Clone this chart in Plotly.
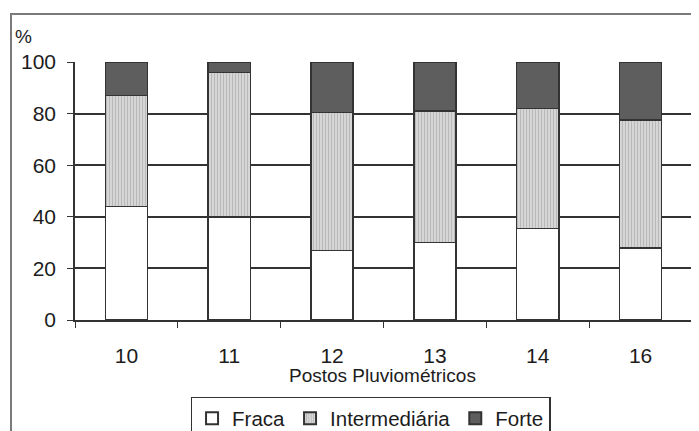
import plotly.graph_objects as go

# Postos pluviométricos and share (%) of each rain class
postos = ["10", "11", "12", "13", "14", "16"]
fraca = [44, 40, 27, 30, 35.5, 28]
intermediaria = [43, 56, 53.5, 51, 46.5, 49.5]
forte = [13, 4, 19.5, 19, 18, 22.5]

y_ticks = [0, 20, 40, 60, 80, 100]

FONT = "Liberation Sans, Arial, sans-serif"
EDGE = "#333333"
TEXT = "#1c1c1c"

fig = go.Figure()

fig.add_trace(
    go.Bar(
        x=postos,
        y=fraca,
        name="Fraca",
        marker=dict(color="#ffffff", line=dict(color=EDGE, width=1.5)),
    )
)
fig.add_trace(
    go.Bar(
        x=postos,
        y=intermediaria,
        name="Intermediária",
        marker=dict(
            color="#d2d2d2",
            line=dict(color=EDGE, width=1.5),
            pattern=dict(shape="|", size=3, solidity=0.35,
                         fgcolor="#9a9a9a", bgcolor="#d6d6d6"),
        ),
    )
)
fig.add_trace(
    go.Bar(
        x=postos,
        y=forte,
        name="Forte",
        marker=dict(color="#5e5e5e", line=dict(color=EDGE, width=1.5)),
    )
)

# outer frame of the figure (cropped on the right and bottom)
fig.add_shape(
    type="rect", xref="paper", yref="paper",
    x0=-0.1037, x1=1.08, y0=-0.6, y1=1.186,
    line=dict(color="#7a7a7a", width=2), layer="above",
)

fig.add_annotation(
    text="%", xref="paper", yref="paper", x=-0.101, y=1.1, xanchor="left",
    yanchor="middle", showarrow=False, font=dict(size=19, color=TEXT),
)
fig.add_annotation(
    text="Postos Pluviométricos", xref="paper", yref="paper", x=0.498, y=-0.215,
    xanchor="center", yanchor="middle", showarrow=False,
    font=dict(size=19, color=TEXT),
)

# page body adds an 8px margin, so the figure is 8px smaller than the window
fig.update_layout(
    barmode="stack",
    bargap=0.59,
    width=691,
    height=423,
    margin={"l": 67, "r": 7, "t": 54, "b": 111, "autoexpand": False},
    paper_bgcolor="white",
    plot_bgcolor="white",
    font=dict(family=FONT, color=TEXT),
    legend=dict(
        orientation="h", x=0.479, xanchor="center", y=-0.298, yanchor="top",
        bordercolor=EDGE, borderwidth=1.5, font=dict(size=20.5),
        traceorder="normal", itemsizing="constant", itemwidth=30,
    ),
    xaxis=dict(
        type="category", showline=True, linecolor=EDGE, linewidth=1.6,
        ticks="outside", tickson="boundaries", ticklen=6, tickcolor=EDGE,
        tickfont=dict(size=21), showgrid=False, ticklabelstandoff=16,
        mirror=False,
    ),
    yaxis=dict(
        range=[0, 100], tickvals=y_ticks, showline=True, linecolor=EDGE,
        linewidth=1.6, ticks="outside", ticklen=6, tickcolor=EDGE,
        tickfont=dict(size=21), showgrid=True, gridcolor=EDGE, gridwidth=1.6,
        zeroline=False, ticklabelstandoff=7,
    ),
)

# right-hand border of the plot area
fig.add_shape(
    type="line", xref="paper", yref="paper", x0=1, x1=1, y0=0, y1=1,
    line=dict(color=EDGE, width=1.6),
)

fig.write_html("out.html")
